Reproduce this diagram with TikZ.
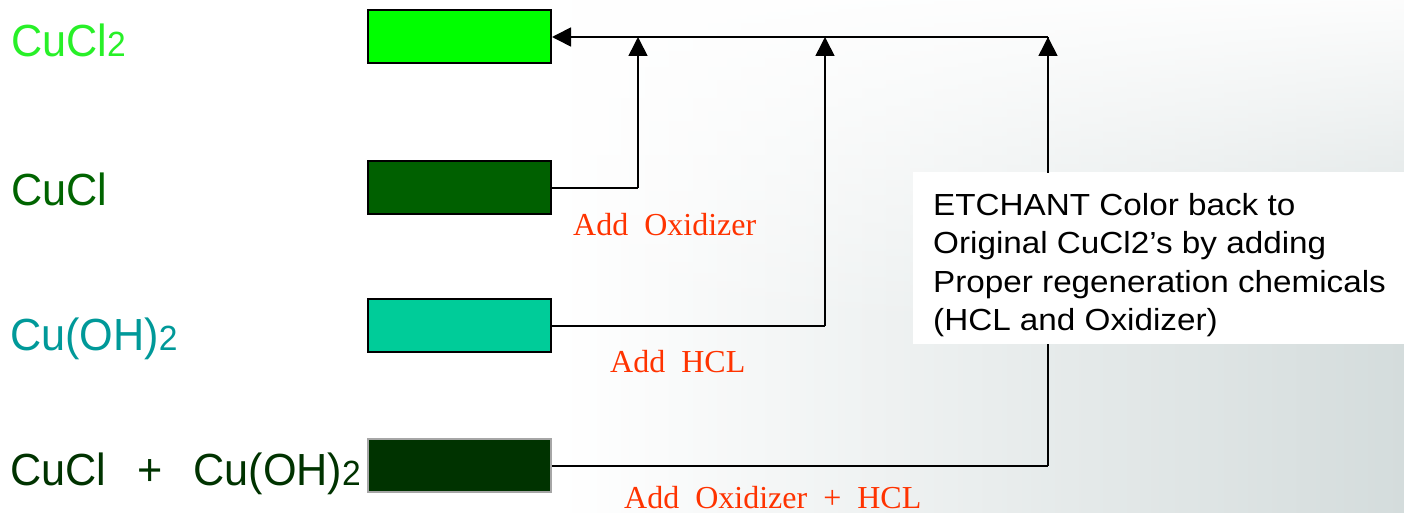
\documentclass[tikz,border=0pt]{standalone}
\usepackage{fontspec}
\setmainfont{Liberation Sans}
\newfontfamily\lbl[FakeStretch=0.96]{Liberation Sans}
\newfontfamily\desc[FakeStretch=1.09]{Liberation Sans}
\newfontfamily\serifred{Liberation Serif}
\usetikzlibrary{arrows.meta,fadings}
\definecolor{cLime}{RGB}{0,255,0}
\definecolor{cLimeTxt}{RGB}{40,240,40}
\definecolor{cDark}{RGB}{0,96,0}
\definecolor{cDarkTxt}{RGB}{0,100,0}
\definecolor{cTeal}{RGB}{0,204,153}
\definecolor{cTealTxt}{RGB}{0,153,153}
\definecolor{cDeep}{RGB}{0,51,0}
\definecolor{cRed}{RGB}{255,51,0}
\definecolor{bgB}{RGB}{212,220,220}
\tikzfading[name=fadetop, top color=transparent!0, bottom color=transparent!100]
\tikzset{
  swatch/.style={draw=black, line width=2pt, minimum width=183pt, minimum height=53pt, inner sep=0pt, anchor=north west},
  chem/.style={anchor=base west, inner sep=0pt, font=\lbl\fontsize{45}{50}\selectfont},
  addlbl/.style={anchor=base west, inner sep=0pt, text=cRed, font=\serifred\fontsize{32}{36}\selectfont},
  conn/.style={line width=1.6pt, draw=black},
  arr/.style={conn, -{Triangle[length=19pt, width=19pt]}},
}
\newcommand{\sub}[1]{{\fontsize{35}{38}\selectfont #1}}
\begin{document}
\begin{tikzpicture}[x=1pt, y=-1pt]
\useasboundingbox (0,0) rectangle (1404,513);
% background
\fill[white] (0,0) rectangle (1404,513);
\shade[left color=white, right color=bgB] (560,0) rectangle (1404,513);
\fill[white, path fading=fadetop] (0,-20) rectangle (1404,330);

% swatches
\node[swatch, fill=cLime] (b1) at (367,9) {};
\node[swatch, fill=cDark] (b2) at (367,160) {};
\node[swatch, fill=cTeal] (b3) at (367,298) {};
\node[swatch, fill=cDeep, draw=gray!70] (b4) at (367,438) {};

% chemical labels
\node[chem, text=cLimeTxt] (l1) at (11,57) {CuCl\sub{2}};
\node[chem, text=cDarkTxt] (l2) at (11,205) {CuCl};
\node[chem, text=cTealTxt] (l3) at (10,350) {Cu(OH)\sub{2}};
\node[chem, text=cDeep] (l4) at (10,485) {CuCl\hspace{31pt}+\hspace{31pt}Cu(OH)\sub{2}};

% junction coordinates
\coordinate (t1) at (638,37);
\coordinate (t2) at (825,37);
\coordinate (t3) at (1048,37);
\coordinate (c1) at (638,188);
\coordinate (c2) at (825,326);
\coordinate (c3) at (1048,466);

% description box
\draw[conn] (c3) -- (t3);
\node[fill=white, inner sep=0pt, minimum width=491pt, minimum height=172pt, anchor=north west] (descbox) at (913,172) {};
\node[anchor=north west, inner sep=0pt, align=left, font=\desc\fontsize{30.5}{38.5}\selectfont] (desctxt) at (933,193)
  {ETCHANT Color back to\\Original CuCl2’s by adding\\Proper regeneration chemicals\\(HCL and Oxidizer)};

% connectors
\draw[arr] (t3) -- (b1.east |- t3);
\draw[conn] (b2.east |- c1) -- (c1);
\draw[arr] (c1) -- (t1);
\draw[conn] (b3.east |- c2) -- (c2);
\draw[arr] (c2) -- (t2);
\draw[conn] (b4.east |- c3) -- (c3);
\draw[arr] ([yshift=-1pt]t3 |- descbox.north) -- (t3);

% red labels
\node[addlbl] (a1) at (573,235) {Add\ \ Oxidizer};
\node[addlbl] (a2) at (610,372) {Add\ \ HCL};
\node[addlbl] (a3) at (624,508) {Add\ \ Oxidizer\ \ +\ \ HCL};
\end{tikzpicture}
\end{document}
